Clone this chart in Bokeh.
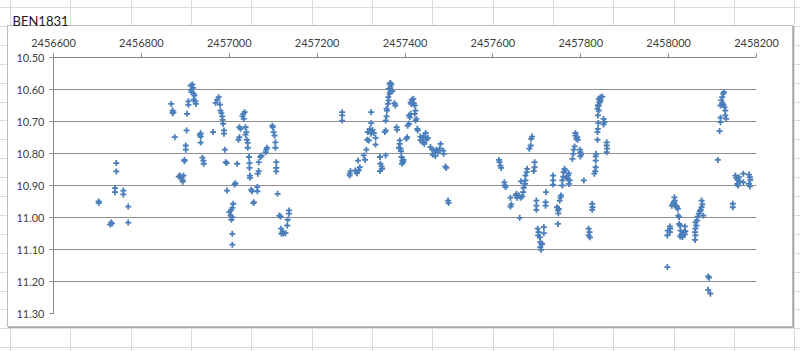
from bokeh.plotting import figure
from bokeh.models import Range1d, FixedTicker, NumeralTickFormatter, ColumnDataSource
from bokeh.embed import file_html
from bokeh.resources import INLINE

# ---------------- data ----------------
chart_title = "BEN1831"
x_ticks = [2456600, 2456800, 2457000, 2457200, 2457400, 2457600, 2457800, 2458000, 2458200]
y_ticks = [10.5, 10.6, 10.7, 10.8, 10.9, 11.0, 11.1, 11.2, 11.3]

jd_s1 = [2456703, 2456703, 2456731, 2456729, 2456733, 2456743, 2456743, 2456740, 2456740, 2456759,
         2456759, 2456770, 2456770, 2456868, 2456871, 2456873, 2456871, 2456876, 2456888, 2456891,
         2456894, 2456891, 2456896, 2456894, 2456885, 2456898, 2456898, 2456901, 2456901, 2456903,
         2456904, 2456907, 2456907, 2456912, 2456916, 2456913, 2456918, 2456914, 2456919, 2456921,
         2456919, 2456923, 2456924, 2456935, 2456935, 2456933, 2456935, 2456939, 2456941, 2456942,
         2456963, 2456969, 2456973, 2456976, 2456979, 2456980, 2456982, 2456984, 2456985, 2456986,
         2456988, 2456988, 2456990, 2456992, 2456994, 2456995, 2457000, 2457004, 2457003, 2457007,
         2457005, 2457009, 2457007, 2457007, 2457007, 2457014, 2457012, 2457018, 2457023, 2457026,
         2457023, 2457021, 2457032, 2457033, 2457030, 2457035, 2457037, 2457039, 2457037, 2457040,
         2457042, 2457042, 2457045, 2457046, 2457046, 2457047, 2457047, 2457050, 2457052, 2457055,
         2457056, 2457064, 2457064, 2457065, 2457067, 2457067, 2457071, 2457073, 2457083, 2457084,
         2457086, 2457098, 2457099, 2457101, 2457103, 2457105, 2457105, 2457107, 2457107, 2457107,
         2457110, 2457114, 2457117, 2457118, 2457121, 2457124, 2457128, 2457119, 2457132, 2457133,
         2457136, 2457136]
mag_s1 = [10.950, 10.955, 11.016, 11.022, 11.019, 10.830, 10.856, 10.908, 10.921, 10.916,
          10.928, 10.966, 11.016, 10.645, 10.666, 10.671, 10.674, 10.749, 10.869, 10.875,
          10.884, 10.878, 10.869, 10.888, 10.872, 10.820, 10.824, 10.775, 10.788, 10.728,
          10.676, 10.637, 10.648, 10.588, 10.584, 10.601, 10.595, 10.608, 10.613, 10.619,
          10.632, 10.637, 10.645, 10.737, 10.747, 10.742, 10.766, 10.813, 10.822, 10.832,
          10.733, 10.642, 10.632, 10.624, 10.647, 10.666, 10.674, 10.684, 10.695, 10.707,
          10.728, 10.738, 10.788, 10.827, 10.830, 10.916, 10.983, 10.978, 10.994, 10.999,
          11.007, 10.957, 10.970, 11.051, 11.085, 10.893, 10.897, 10.832, 10.718, 10.723,
          10.749, 10.757, 10.676, 10.692, 10.684, 10.671, 10.718, 10.733, 10.741, 10.757,
          10.767, 10.782, 10.811, 10.830, 10.845, 10.869, 10.876, 10.913, 10.918, 10.955,
          10.952, 10.905, 10.918, 10.863, 10.855, 10.827, 10.811, 10.807, 10.796, 10.788,
          10.782, 10.713, 10.718, 10.733, 10.744, 10.765, 10.782, 10.827, 10.845, 10.856,
          10.926, 10.994, 10.997, 11.035, 11.046, 11.049, 11.049, 11.051, 11.025, 11.007,
          10.988, 10.978]

jd_s2 = [2457257, 2457257, 2457257, 2457274, 2457276, 2457274, 2457287, 2457291, 2457295, 2457297,
         2457290, 2457293, 2457306, 2457309, 2457312, 2457314, 2457318, 2457315, 2457320, 2457323,
         2457326, 2457323, 2457329, 2457323, 2457323, 2457333, 2457333, 2457343, 2457344, 2457347,
         2457343, 2457348, 2457354, 2457356, 2457356, 2457356, 2457358, 2457359, 2457358, 2457361,
         2457363, 2457362, 2457365, 2457363, 2457367, 2457365, 2457369, 2457371, 2457367, 2457367,
         2457369, 2457376, 2457378, 2457381, 2457382, 2457388, 2457388, 2457386, 2457390, 2457391,
         2457392, 2457394, 2457396, 2457397, 2457393, 2457403, 2457405, 2457406, 2457409, 2457409,
         2457413, 2457411, 2457413, 2457416, 2457419, 2457414, 2457420, 2457422, 2457424, 2457422,
         2457424, 2457426, 2457428, 2457429, 2457435, 2457439, 2457443, 2457447, 2457435, 2457441,
         2457449, 2457452, 2457444, 2457458, 2457462, 2457467, 2457472, 2457475, 2457479, 2457463,
         2457469, 2457481, 2457488, 2457487, 2457492, 2457494, 2457498, 2457499]
mag_s2 = [10.671, 10.681, 10.697, 10.863, 10.855, 10.869, 10.853, 10.858, 10.853, 10.843,
          10.862, 10.822, 10.806, 10.820, 10.788, 10.757, 10.759, 10.733, 10.723, 10.730,
          10.726, 10.738, 10.736, 10.705, 10.671, 10.751, 10.772, 10.811, 10.832, 10.841,
          10.855, 10.848, 10.733, 10.728, 10.806, 10.697, 10.684, 10.666, 10.660, 10.645,
          10.634, 10.624, 10.613, 10.598, 10.591, 10.582, 10.603, 10.605, 10.608, 10.580,
          10.584, 10.643, 10.650, 10.718, 10.726, 10.759, 10.770, 10.782, 10.785, 10.793,
          10.811, 10.822, 10.827, 10.820, 10.832, 10.754, 10.749, 10.713, 10.707, 10.681,
          10.676, 10.687, 10.640, 10.632, 10.629, 10.645, 10.643, 10.650, 10.666, 10.676,
          10.697, 10.692, 10.723, 10.728, 10.747, 10.751, 10.747, 10.736, 10.759, 10.765,
          10.757, 10.751, 10.770, 10.780, 10.788, 10.791, 10.788, 10.796, 10.785, 10.804,
          10.808, 10.770, 10.801, 10.791, 10.841, 10.845, 10.947, 10.955]

jd_s3 = [2457614, 2457615, 2457617, 2457619, 2457626, 2457627, 2457629, 2457640, 2457642, 2457640,
         2457652, 2457655, 2457659, 2457663, 2457667, 2457654, 2457661, 2457664, 2457669, 2457670,
         2457673, 2457674, 2457674, 2457677, 2457678, 2457683, 2457686, 2457687, 2457689, 2457695,
         2457695, 2457693, 2457699, 2457699, 2457699, 2457702, 2457704, 2457703, 2457707, 2457708,
         2457710, 2457708, 2457710, 2457712, 2457716, 2457716, 2457720, 2457720, 2457721, 2457737,
         2457737, 2457737, 2457746, 2457748, 2457750, 2457749, 2457748, 2457752, 2457754, 2457755,
         2457758, 2457758, 2457760, 2457761, 2457763, 2457765, 2457768, 2457771, 2457773, 2457775,
         2457773, 2457771, 2457781, 2457783, 2457784, 2457786, 2457788, 2457790, 2457788, 2457792,
         2457793, 2457798, 2457799, 2457801, 2457799, 2457807, 2457818, 2457820, 2457818, 2457821,
         2457826, 2457827, 2457826, 2457831, 2457833, 2457834, 2457834, 2457834, 2457835, 2457838,
         2457838, 2457839, 2457840, 2457839, 2457841, 2457841, 2457843, 2457845, 2457841, 2457845,
         2457849, 2457843, 2457839, 2457838, 2457852, 2457854, 2457852, 2457859, 2457859, 2457860,
         2457859]
mag_s3 = [10.820, 10.827, 10.838, 10.845, 10.890, 10.900, 10.905, 10.938, 10.959, 10.966,
          10.931, 10.938, 10.931, 10.938, 10.934, 10.926, 11.001, 10.887, 10.921, 10.907,
          10.895, 10.884, 10.869, 10.858, 10.848, 10.785, 10.775, 10.754, 10.747, 10.827,
          10.843, 10.855, 10.947, 10.963, 10.976, 11.035, 11.046, 11.056, 11.062, 11.077,
          11.084, 11.093, 11.101, 11.082, 11.030, 11.049, 10.952, 10.963, 10.921, 10.869,
          10.884, 10.897, 10.968, 10.978, 10.973, 10.987, 11.020, 10.947, 10.937, 10.931,
          10.900, 10.884, 10.872, 10.858, 10.848, 10.853, 10.876, 10.869, 10.862, 10.884,
          10.895, 10.879, 10.817, 10.801, 10.788, 10.778, 10.744, 10.754, 10.736, 10.749,
          10.757, 10.788, 10.796, 10.803, 10.809, 10.884, 11.035, 11.046, 11.056, 11.062,
          10.957, 10.968, 10.976, 10.863, 10.855, 10.843, 10.822, 10.809, 10.801, 10.757,
          10.733, 10.723, 10.705, 10.681, 10.666, 10.650, 10.640, 10.634, 10.629, 10.624,
          10.622, 10.637, 10.650, 10.660, 10.692, 10.702, 10.709, 10.765, 10.775, 10.785,
          10.796]

jd_s4 = [2457997, 2457997, 2457998, 2458003, 2458003, 2458004, 2458007, 2458010, 2458012, 2458013,
         2458014, 2458016, 2458018, 2458021, 2458019, 2458022, 2458024, 2458024, 2458026, 2458027,
         2458029, 2458031, 2458026, 2458033, 2458035, 2458037, 2458038, 2458037, 2458060, 2458061,
         2458060, 2458061, 2458063, 2458061, 2458065, 2458066, 2458069, 2458071, 2458073, 2458075,
         2458077, 2458075, 2458079, 2458090, 2458092, 2458090, 2458095, 2458112, 2458116, 2458118,
         2458118, 2458118, 2458120, 2458122, 2458124, 2458126, 2458122, 2458125, 2458127, 2458129,
         2458129, 2458131, 2458146, 2458146, 2458152, 2458154, 2458157, 2458156, 2458160, 2458162,
         2458158, 2458170, 2458170, 2458183, 2458185, 2458186, 2458183, 2458185]
mag_s4 = [11.155, 11.056, 11.041, 11.046, 11.028, 11.035, 10.963, 10.957, 10.952, 10.937,
          10.947, 10.963, 10.968, 10.973, 10.966, 10.994, 10.999, 11.020, 11.025, 11.041,
          11.053, 11.061, 11.059, 11.056, 11.046, 11.053, 11.043, 11.028, 11.070, 11.056,
          11.046, 11.035, 11.025, 11.015, 11.009, 10.997, 10.988, 10.980, 10.976, 10.968,
          10.959, 10.947, 10.994, 11.184, 11.188, 11.226, 11.238, 10.820, 10.730, 10.702,
          10.688, 10.650, 10.634, 10.624, 10.613, 10.608, 10.643, 10.647, 10.655, 10.666,
          10.681, 10.692, 10.957, 10.968, 10.869, 10.876, 10.882, 10.895, 10.874, 10.887,
          10.900, 10.863, 10.890, 10.866, 10.874, 10.882, 10.895, 10.903]

jd = jd_s1 + jd_s2 + jd_s3 + jd_s4
mag = mag_s1 + mag_s2 + mag_s3 + mag_s4

# ---------------- spreadsheet-like page background (CSS only) ----------------
SHEET = "#dadada"
layers = [
    ("linear-gradient(#ffffff,#ffffff)", "8px 26px", "784px 300px", "no-repeat"),   # chart area
    ("linear-gradient(#bcbcbc,#bcbcbc)", "7px 25px", "786px 302px", "no-repeat"),   # chart border
    ("linear-gradient(#a9a9a9,#a9a9a9)", "8px 26px", "786px 302px", "no-repeat"),   # right/bottom edge
    ("linear-gradient(#e0e0e0,#e0e0e0)", "9px 27px", "786px 302px", "no-repeat"),   # shadow
    (f"repeating-linear-gradient(to right, {SHEET} 0px, {SHEET} 1px, transparent 1px, transparent 60.33px)",
     "10px 0px", "auto", "repeat"),
    (f"repeating-linear-gradient(to bottom, {SHEET} 0px, {SHEET} 1px, transparent 1px, transparent 18.9px)",
     "0px 7px", "auto", "repeat"),
]
page_styles = {
    "background-color": "#ffffff",
    "background-image": ", ".join(l[0] for l in layers),
    "background-position": ", ".join(l[1] for l in layers),
    "background-size": ", ".join(l[2] for l in layers),
    "background-repeat": ", ".join(l[3] for l in layers),
}

# ---------------- figure ----------------
W, H = 800, 351
p = figure(width=W, height=H, output_backend="svg", toolbar_location=None,
           x_range=Range1d(x_ticks[0], x_ticks[-1]), y_range=Range1d(y_ticks[-1], y_ticks[0]),
           x_axis_location="above", title=chart_title,
           min_border_left=53, min_border_right=44, min_border_top=57, min_border_bottom=38,
           styles=page_styles)
p.background_fill_color = "white"
p.border_fill_color = None
p.outline_line_color = None

p.title.text_font = "Lato"
p.title.text_font_size = "13px"
p.title.text_font_style = "normal"
p.title.text_color = "#1a1a1a"
p.title.align = "left"
p.title.offset = -41
p.title.text_line_height = 1.45
p.title.standoff = 14

TXT = "#404040"
AX = "#868686"
for ax in (p.xaxis[0], p.yaxis[0]):
    ax.axis_line_color = AX
    ax.major_tick_line_color = AX
    ax.minor_tick_line_color = None
    ax.major_tick_out = 4
    ax.major_tick_in = 0
    ax.major_label_text_font = "Lato"
    ax.major_label_text_font_size = "11px"
    ax.major_label_text_color = TXT
p.xaxis.major_label_standoff = 7
p.yaxis.major_label_standoff = 5
p.xaxis.ticker = FixedTicker(ticks=x_ticks)
p.xaxis.formatter = NumeralTickFormatter(format="0")
p.yaxis.ticker = FixedTicker(ticks=y_ticks)
p.yaxis.formatter = NumeralTickFormatter(format="0.00")
p.xgrid.visible = False
p.ygrid.grid_line_color = "#8f8f8f"
p.ygrid.grid_line_width = 1

src = ColumnDataSource(dict(jd=jd, mag=mag))
p.scatter("jd", "mag", source=src, marker="cross", size=6, line_width=1.8,
          line_color="#4a7ebb")

open("out.html", "w").write(file_html(p, INLINE))
